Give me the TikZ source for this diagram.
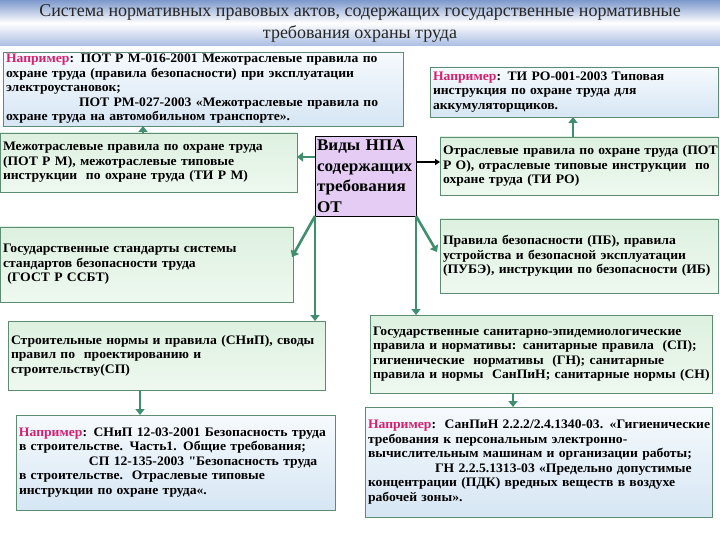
\documentclass[tikz,border=0pt]{standalone}
\usepackage{fontspec}
\setmainfont{Liberation Serif}
\newfontfamily\boxfont[FakeStretch=1.05]{Liberation Serif}
\usetikzlibrary{arrows.meta,calc}
\definecolor{gline}{HTML}{5E8C72}
\definecolor{garr}{HTML}{3F8F6F}
\definecolor{gtop}{HTML}{DDF1E0}
\definecolor{gbot}{HTML}{EEF8EF}
\definecolor{btop}{HTML}{F6FAFD}
\definecolor{bbot}{HTML}{D6E6F4}
\definecolor{mag}{HTML}{D61F6E}
\definecolor{lav}{HTML}{E4CCF4}
\definecolor{tblue}{HTML}{7C98CC}
\definecolor{tblue2}{HTML}{A9BDE2}
\newcommand*\oneline[1]{\mbox{#1}}
\newcommand*\ex{{\color{mag}Например}}
\begin{document}
\begin{tikzpicture}[x=1pt,y=-1pt,
  box/.style={draw=gline, line width=0.8pt, inner xsep=3pt, inner ysep=1pt, outer sep=0pt,
    align=left, anchor=north west, font=\boxfont\bfseries\fontsize{13}{14.5}\selectfont},
  gbox/.style={box, top color=gtop, bottom color=gbot},
  bbox/.style={box, top color=btop, bottom color=bbot},
  cbox/.style={draw=black, line width=0.8pt, fill=lav, inner xsep=2pt, inner ysep=0pt, outer sep=0pt,
    align=left, anchor=north west, font=\boxfont\bfseries\fontsize{16.3}{20.5}\selectfont},
  garrow/.style={draw=garr, line width=2.6pt, -{Triangle[length=6pt,width=9pt]}},
  barrow/.style={draw=black, line width=1.5pt, -{Triangle[length=5pt,width=6pt]}},
  titletext/.style={align=center, text=black!85, font=\fontsize{18}{22}\selectfont}]
\useasboundingbox (0,0) rectangle (720,540);
\fill[white] (0,0) rectangle (720,540);
\shade[top color=tblue, bottom color=tblue2, middle color=white] (0,0) rectangle (720,46);
\node[titletext] (title) at (360,23) {Система нормативных правовых актов, содержащих государственные нормативные\\требования охраны труда};

\node[bbox, minimum width=400pt, minimum height=74pt, text width=394pt] (b1) at (3,52)
 {\oneline{\ex: ПОТ Р М-016-2001 Межотраслевые правила по}\\
  \oneline{охране труда (правила безопасности) при эксплуатации}\\
  \oneline{электроустановок;}\\
  \oneline{\hspace*{73pt}ПОТ РМ-027-2003 «Межотраслевые правила по}\\
  \oneline{охране труда на автомобильном транспорте».}};
\node[bbox, minimum width=288pt, minimum height=50pt, text width=282pt] (b2) at (430,67)
 {\oneline{\ex: ТИ РО-001-2003 Типовая}\\
  \oneline{инструкция по охране труда для}\\
  \oneline{аккумуляторщиков.}};
\node[gbox, minimum width=297pt, minimum height=59pt, text width=291pt] (b3) at (0,133)
 {\oneline{Межотраслевые правила по охране труда}\\
  \oneline{(ПОТ Р М), межотраслевые типовые}\\
  \oneline{инструкции\ \ по охране труда (ТИ Р М)}};
\node[cbox, minimum width=101pt, minimum height=80pt, text width=97pt] (c) at (315,136)
 {\oneline{Виды НПА}\\\oneline{содержащих}\\\oneline{требования}\\\oneline{ОТ}};
\node[gbox, minimum width=278pt, minimum height=58pt, text width=272pt] (b5) at (440,137)
 {\oneline{Отраслевые правила по охране труда (ПОТ}\\
  \oneline{Р О), отраслевые типовые инструкции\ \ по}\\
  \oneline{охране труда (ТИ РО)}};
\node[gbox, minimum width=293pt, minimum height=75pt, text width=287pt] (b6) at (0,227)
 {\oneline{Государственные стандарты системы}\\
  \oneline{стандартов безопасности труда}\\
  \oneline{\ (ГОСТ Р ССБТ)}};
\node[gbox, minimum width=278pt, minimum height=74pt, text width=272pt] (b7) at (440,219)
 {\oneline{Правила безопасности (ПБ), правила}\\
  \oneline{устройства и безопасной эксплуатации}\\
  \oneline{(ПУБЭ), инструкции по безопасности (ИБ)}};
\node[gbox, minimum width=317pt, minimum height=69pt, text width=311pt] (b8) at (8,321)
 {\oneline{Строительные нормы и правила (СНиП), своды}\\
  \oneline{правил по\ \ проектированию и}\\
  \oneline{строительству(СП)}};
\node[gbox, minimum width=342pt, minimum height=78pt, text width=336pt] (b9) at (370,315)
 {\oneline{Государственные санитарно-эпидемиологические}\\
  \oneline{правила и нормативы: санитарные правила\ \ (СП);}\\
  \oneline{гигиенические\ \ нормативы\ \ (ГН); санитарные}\\
  \oneline{правила и нормы\ \ СанПиН; санитарные нормы (СН)}};
\node[bbox, minimum width=319pt, minimum height=95pt, text width=313pt] (b10) at (16,415)
 {\oneline{\ex: СНиП 12-03-2001 Безопасность труда}\\
  \oneline{в строительстве. Часть1. Общие требования;}\\
  \oneline{\hspace*{70pt}СП 12-135-2003 "Безопасность труда}\\
  \oneline{в строительстве.\ \ Отраслевые типовые}\\
  \oneline{инструкции по охране труда«.}};
\node[bbox, minimum width=347pt, minimum height=110pt, text width=341pt] (b11) at (365,407)
 {\oneline{\ex:\ \ СанПиН 2.2.2/2.4.1340-03. «Гигиенические}\\
  \oneline{требования к персональным электронно-}\\
  \oneline{вычислительным машинам и организации работы;}\\
  \oneline{\hspace*{67pt}ГН 2.2.5.1313-03 «Предельно допустимые}\\
  \oneline{концентрации (ПДК) вредных веществ в воздухе}\\
  \oneline{рабочей зоны».}};

% connectors
\coordinate (cl) at ($(c.north west)+(0,21)$);
\draw[garrow] (cl) -- (cl -| b3.east);
\coordinate (cr) at ($(c.north east)+(0,26)$);
\draw[barrow] (cr) -- (cr -| b5.west);
\coordinate (u1) at ($(b3.north west)+(143,0)$);
\draw[garrow] (u1) -- (u1 |- b1.south);
\coordinate (u2) at ($(b5.north west)+(133,0)$);
\draw[garrow] (u2) -- (u2 |- b2.south);
\coordinate (e6) at ($(b6.north east)+(-1,30)$);
\draw[garrow] (c.south west) -- (e6);
\draw[garrow] (c.south west) -- (c.south west |- b8.north);
\coordinate (e7) at ($(b7.north west)+(-3,33)$);
\draw[garrow] (c.south east) -- (e7);
\draw[garrow] (c.south east) -- (c.south east |- b9.north);
\coordinate (d1) at ($(b8.south west)+(132,0)$);
\draw[garrow] (d1) -- (d1 |- b10.north);
\coordinate (d2) at ($(b9.south west)+(143,0)$);
\draw[garrow] (d2) -- (d2 |- b11.north);
\end{tikzpicture}
\end{document}
